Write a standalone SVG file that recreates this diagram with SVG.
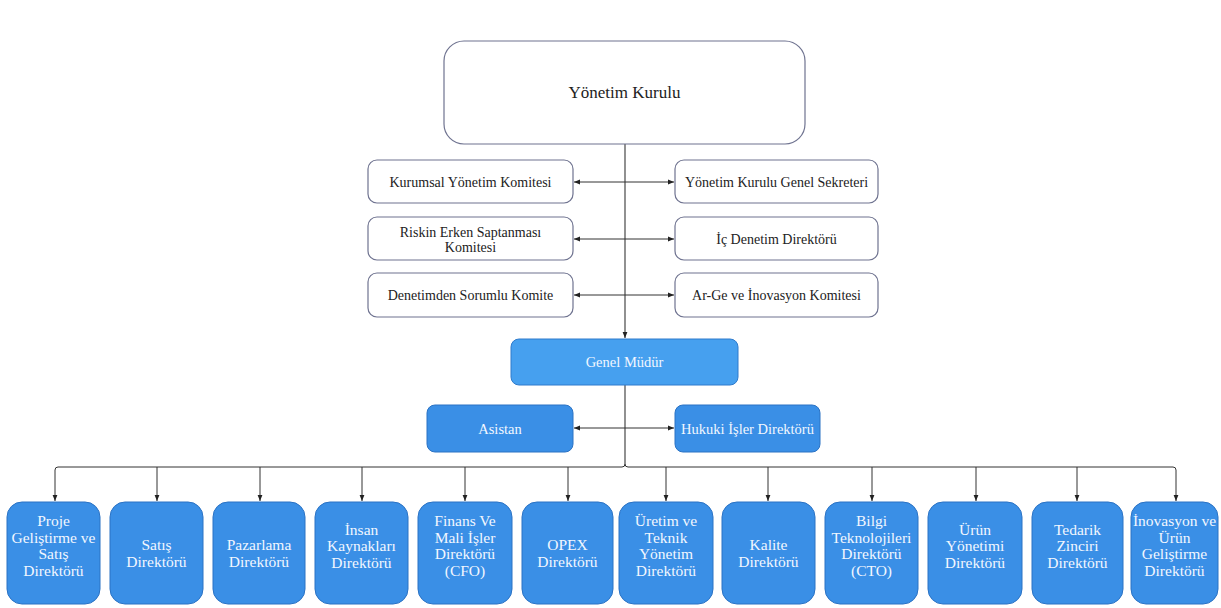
<svg xmlns="http://www.w3.org/2000/svg" width="1221" height="608" viewBox="0 0 1221 608">
<style>
  .wbox{fill:#ffffff;stroke:#6f7390;stroke-width:1.2}
  .bbox{fill:#3a8fe6;stroke:#2a72c4;stroke-width:1}
  .gm{fill:#46a0ef;stroke:#2f7bcc;stroke-width:1}
  .t{font-family:"Liberation Serif","Times New Roman",serif;fill:#222;text-anchor:middle}
  .w{font-family:"Liberation Serif","Times New Roman",serif;fill:#f2f7ff;text-anchor:middle}
  .c{fill:none;stroke:#333;stroke-width:1}
  .cv{fill:none;stroke:#555;stroke-width:1.3}
</style>
<defs>
  <marker id="ah" viewBox="0 0 6 6" refX="6" refY="3" markerWidth="6" markerHeight="6" markerUnits="userSpaceOnUse" orient="auto">
    <path d="M0,0.6 L6,3 L0,5.4 Z" fill="#222"/>
  </marker>
</defs>
<rect width="1221" height="608" fill="#ffffff"/>

<g id="connectors">
  <path class="cv" d="M625,144 V338" marker-end="url(#ah)"/>
  <path class="c" d="M625,182 H574" marker-end="url(#ah)"/>
  <path class="c" d="M625,182 H674" marker-end="url(#ah)"/>
  <path class="c" d="M625,239 H574" marker-end="url(#ah)"/>
  <path class="c" d="M625,239 H674" marker-end="url(#ah)"/>
  <path class="c" d="M625,295 H574" marker-end="url(#ah)"/>
  <path class="c" d="M625,295 H674" marker-end="url(#ah)"/>
  <path class="cv" d="M625,385 V464"/>
  <path class="c" d="M625,428 H574" marker-end="url(#ah)"/>
  <path class="c" d="M625,428 H674" marker-end="url(#ah)"/>
  <path class="c" d="M625,464 Q625,467 622,467 H58 Q55,467 55,470 V501" marker-end="url(#ah)"/>
  <path class="c" d="M157,467 V501" marker-end="url(#ah)"/>
  <path class="c" d="M260,467 V501" marker-end="url(#ah)"/>
  <path class="c" d="M362,467 V501" marker-end="url(#ah)"/>
  <path class="c" d="M465,467 V501" marker-end="url(#ah)"/>
  <path class="c" d="M568,467 V501" marker-end="url(#ah)"/>
  <path class="c" d="M625,464 Q625,467 628,467 H1173 Q1176,467 1176,470 V501" marker-end="url(#ah)"/>
  <path class="c" d="M666,467 V501" marker-end="url(#ah)"/>
  <path class="c" d="M768,467 V501" marker-end="url(#ah)"/>
  <path class="c" d="M872,467 V501" marker-end="url(#ah)"/>
  <path class="c" d="M976,467 V501" marker-end="url(#ah)"/>
  <path class="c" d="M1077,467 V501" marker-end="url(#ah)"/>
</g>

<g id="yonetim-kurulu">
  <rect class="wbox" x="444" y="41" width="361" height="103" rx="20"/>
  <text class="t" x="624.5" y="98" font-size="17">Yönetim Kurulu</text>
</g>

<g id="kurumsal-yonetim-komitesi">
  <rect class="wbox" x="368" y="160" width="205" height="43" rx="9"/>
  <text class="t" x="470.5" y="187" font-size="14">Kurumsal Yönetim Komitesi</text>
</g>
<g id="yk-genel-sekreteri">
  <rect class="wbox" x="675" y="160" width="203" height="43" rx="9"/>
  <text class="t" x="776.5" y="187" font-size="14">Yönetim Kurulu Genel Sekreteri</text>
</g>
<g id="riskin-erken-saptanmasi">
  <rect class="wbox" x="368" y="217" width="205" height="43" rx="9"/>
  <text class="t" x="470.5" y="236.5" font-size="14">Riskin Erken Saptanması</text>
  <text class="t" x="470.5" y="252" font-size="14">Komitesi</text>
</g>
<g id="ic-denetim">
  <rect class="wbox" x="675" y="217" width="203" height="43" rx="9"/>
  <text class="t" x="776.5" y="244" font-size="14">İç Denetim Direktörü</text>
</g>
<g id="denetimden-sorumlu">
  <rect class="wbox" x="368" y="273" width="205" height="44" rx="9"/>
  <text class="t" x="470.5" y="300" font-size="14">Denetimden Sorumlu Komite</text>
</g>
<g id="arge-inovasyon-komitesi">
  <rect class="wbox" x="675" y="273" width="203" height="44" rx="9"/>
  <text class="t" x="776.5" y="300" font-size="14">Ar-Ge ve İnovasyon Komitesi</text>
</g>

<g id="genel-mudur">
  <rect class="gm" x="511" y="339" width="227" height="46" rx="8"/>
  <text class="w" x="624.5" y="367" font-size="14.5">Genel Müdür</text>
</g>
<g id="asistan">
  <rect class="bbox" x="427" y="405" width="146" height="47" rx="8"/>
  <text class="w" x="500" y="433.5" font-size="14.5">Asistan</text>
</g>
<g id="hukuki-isler">
  <rect class="bbox" x="675" y="405" width="145" height="47" rx="8"/>
  <text class="w" x="747.5" y="433.5" font-size="14.5">Hukuki İşler Direktörü</text>
</g>

<g id="proje-gelistirme">
  <rect class="bbox" x="7" y="502" width="93" height="102" rx="15"/>
  <text class="w" font-size="15.5"><tspan x="53.5" y="526">Proje</tspan><tspan x="53.5" y="542.5">Geliştirme ve</tspan><tspan x="53.5" y="559">Satış</tspan><tspan x="53.5" y="575.5">Direktörü</tspan></text>
</g>
<g id="satis">
  <rect class="bbox" x="110" y="502" width="93" height="102" rx="15"/>
  <text class="w" font-size="15.5"><tspan x="156.5" y="550">Satış</tspan><tspan x="156.5" y="566.5">Direktörü</tspan></text>
</g>
<g id="pazarlama">
  <rect class="bbox" x="213" y="502" width="92" height="102" rx="15"/>
  <text class="w" font-size="15.5"><tspan x="259" y="550">Pazarlama</tspan><tspan x="259" y="566.5">Direktörü</tspan></text>
</g>
<g id="insan-kaynaklari">
  <rect class="bbox" x="315" y="502" width="93" height="102" rx="15"/>
  <text class="w" font-size="15.5"><tspan x="361.5" y="534.5">İnsan</tspan><tspan x="361.5" y="551">Kaynakları</tspan><tspan x="361.5" y="567.5">Direktörü</tspan></text>
</g>
<g id="finans">
  <rect class="bbox" x="418" y="502" width="94" height="102" rx="15"/>
  <text class="w" font-size="15.5"><tspan x="465" y="526">Finans Ve</tspan><tspan x="465" y="542.5">Mali İşler</tspan><tspan x="465" y="559">Direktörü</tspan><tspan x="465" y="575.5">(CFO)</tspan></text>
</g>
<g id="opex">
  <rect class="bbox" x="522" y="502" width="91" height="102" rx="15"/>
  <text class="w" font-size="15.5"><tspan x="567.5" y="550">OPEX</tspan><tspan x="567.5" y="566.5">Direktörü</tspan></text>
</g>
<g id="uretim">
  <rect class="bbox" x="619" y="502" width="94" height="102" rx="15"/>
  <text class="w" font-size="15.5"><tspan x="666" y="526">Üretim ve</tspan><tspan x="666" y="542.5">Teknik</tspan><tspan x="666" y="559">Yönetim</tspan><tspan x="666" y="575.5">Direktörü</tspan></text>
</g>
<g id="kalite">
  <rect class="bbox" x="722" y="502" width="93" height="102" rx="15"/>
  <text class="w" font-size="15.5"><tspan x="768.5" y="550">Kalite</tspan><tspan x="768.5" y="566.5">Direktörü</tspan></text>
</g>
<g id="bilgi-teknolojileri">
  <rect class="bbox" x="825" y="502" width="93" height="102" rx="15"/>
  <text class="w" font-size="15.5"><tspan x="871.5" y="526">Bilgi</tspan><tspan x="871.5" y="542.5">Teknolojileri</tspan><tspan x="871.5" y="559">Direktörü</tspan><tspan x="871.5" y="575.5">(CTO)</tspan></text>
</g>
<g id="urun-yonetimi">
  <rect class="bbox" x="928" y="502" width="94" height="102" rx="15"/>
  <text class="w" font-size="15.5"><tspan x="975" y="534.5">Ürün</tspan><tspan x="975" y="551">Yönetimi</tspan><tspan x="975" y="567.5">Direktörü</tspan></text>
</g>
<g id="tedarik-zinciri">
  <rect class="bbox" x="1032" y="502" width="91" height="102" rx="15"/>
  <text class="w" font-size="15.5"><tspan x="1077.5" y="534.5">Tedarik</tspan><tspan x="1077.5" y="551">Zinciri</tspan><tspan x="1077.5" y="567.5">Direktörü</tspan></text>
</g>
<g id="inovasyon-urun">
  <rect class="bbox" x="1131" y="502" width="87" height="102" rx="15"/>
  <text class="w" font-size="15.5"><tspan x="1174.5" y="526">İnovasyon ve</tspan><tspan x="1174.5" y="542.5">Ürün</tspan><tspan x="1174.5" y="559">Geliştirme</tspan><tspan x="1174.5" y="575.5">Direktörü</tspan></text>
</g>
</svg>
